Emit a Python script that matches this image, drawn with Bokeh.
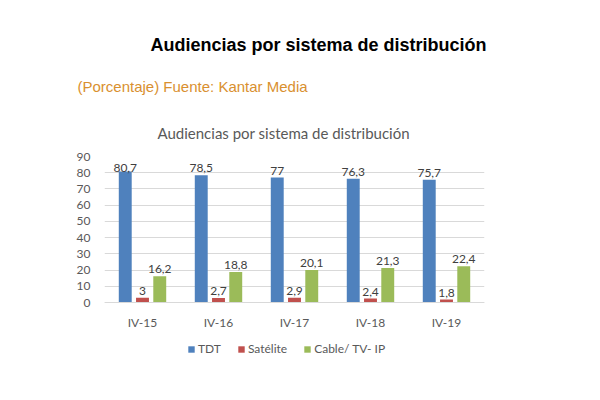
from bokeh.plotting import figure
from bokeh.models import ColumnDataSource, Legend, LegendItem, FixedTicker, Title
from bokeh.core.properties import value
from bokeh.transform import dodge
from bokeh.embed import file_html
from bokeh.resources import INLINE

# Audience share by distribution system (percent)
periods = ["IV-15", "IV-16", "IV-17", "IV-18", "IV-19"]
tdt = [80.7, 78.5, 77, 76.3, 75.7]
satelite = [3, 2.7, 2.9, 2.4, 1.8]
cable_iptv = [16.2, 18.8, 20.1, 21.3, 22.4]
series_names = ["TDT", "Satélite", "Cable/ TV- IP"]
colors = ["#4F81BD", "#C0504D", "#9BBB59"]
y_ticks = [0, 10, 20, 30, 40, 50, 60, 70, 80, 90]
Y_MAX = 90

main_title = "Audiencias por sistema de distribución"
subtitle = "(Porcentaje) Fuente: Kantar Media"
chart_title = "Audiencias por sistema de distribución"

TEXT_FONT = "Lato"
GRAY = "#595959"

# the frame holds the bars (top 146 px) plus room under the baseline for
# the category labels and the legend
FRAME_W = 380
BAR_AREA_H = 146
FOOT_H = 68
FRAME_H = BAR_AREA_H + FOOT_H
PX_PER_UNIT = BAR_AREA_H / Y_MAX
Y_START = -FOOT_H / PX_PER_UNIT


def fmt(v):
    s = ("%.1f" % v).rstrip("0").rstrip(".")
    return s.replace(".", ",")


def label_y(v):
    # value label sits a few pixels above the bar, kept inside the plot area
    return min(v + 7 / PX_PER_UNIT, Y_MAX - 11 / PX_PER_UNIT)


source = ColumnDataSource(dict(
    period=periods,
    tdt=tdt, sat=satelite, cab=cable_iptv,
    tdt_l=[fmt(v) for v in tdt],
    sat_l=[fmt(v) for v in satelite],
    cab_l=[fmt(v) for v in cable_iptv],
    tdt_y=[label_y(v) for v in tdt],
    sat_y=[label_y(v) for v in satelite],
    cab_y=[label_y(v) for v in cable_iptv],
))

p = figure(
    x_range=periods, y_range=(Y_START, Y_MAX),
    frame_width=FRAME_W, frame_height=FRAME_H,
    output_backend="svg", toolbar_location=None,
    min_border_left=104, min_border_right=116,
    min_border_top=156, min_border_bottom=0,
)
p.outline_line_color = None

bar_w = 0.17
offsets = [-0.227, 0.0, 0.227]
fields = ["tdt", "sat", "cab"]
renderers = []
for off, fld, col in zip(offsets, fields, colors):
    r = p.vbar(x=dodge("period", off, range=p.x_range), top=fld, bottom=0,
               width=bar_w, source=source, fill_color=col, line_color=None)
    renderers.append(r)
    p.text(x=dodge("period", off, range=p.x_range), y=fld + "_y", text=fld + "_l",
           source=source, text_align="center", text_baseline="alphabetic",
           text_font_size="12px", text_color="#404040",
           text_font=value(TEXT_FONT))

p.yaxis.ticker = FixedTicker(ticks=y_ticks)
p.yaxis.axis_line_color = None
p.yaxis.major_tick_line_color = None
p.yaxis.minor_tick_line_color = None
p.yaxis.major_label_text_font = TEXT_FONT
p.yaxis.major_label_text_font_size = "12px"
p.yaxis.major_label_text_color = GRAY
p.yaxis.major_label_standoff = 8

# category axis pinned to the zero line
p.xaxis.fixed_location = 0
p.xaxis.axis_line_color = "#D9D9D9"
p.xaxis.major_tick_line_color = None
p.xaxis.minor_tick_line_color = None
p.xaxis.major_label_text_font = TEXT_FONT
p.xaxis.major_label_text_font_size = "12px"
p.xaxis.major_label_text_color = GRAY
p.xaxis.major_label_standoff = 6

p.xgrid.grid_line_color = None
p.ygrid.grid_line_color = "#D9D9D9"

legend = Legend(
    items=[LegendItem(label=n, renderers=[r]) for n, r in zip(series_names, renderers)],
    orientation="horizontal", location=(83, 14),
    glyph_width=8, glyph_height=8, label_standoff=3, spacing=16,
    label_text_font=TEXT_FONT, label_text_font_size="12px", label_text_color=GRAY,
    border_line_color=None, background_fill_alpha=0, padding=0, margin=0,
)
p.add_layout(legend, "center")

# headings stacked above the plot frame (first added sits nearest the frame)
p.add_layout(Title(text=chart_title, align="left", offset=53, standoff=30,
                   text_font=TEXT_FONT, text_font_size="15px", text_color=GRAY,
                   text_font_style="normal"), "above")
p.add_layout(Title(text=subtitle, align="left", offset=-27, standoff=24,
                   text_font="Liberation Sans", text_font_size="15px",
                   text_color="#D9902F", text_font_style="normal"), "above")
p.add_layout(Title(text=main_title, align="left", offset=46, standoff=17,
                   text_font="Liberation Sans", text_font_size="18px",
                   text_color="black", text_font_style="bold"), "above")

open("out.html", "w").write(file_html(p, INLINE))
